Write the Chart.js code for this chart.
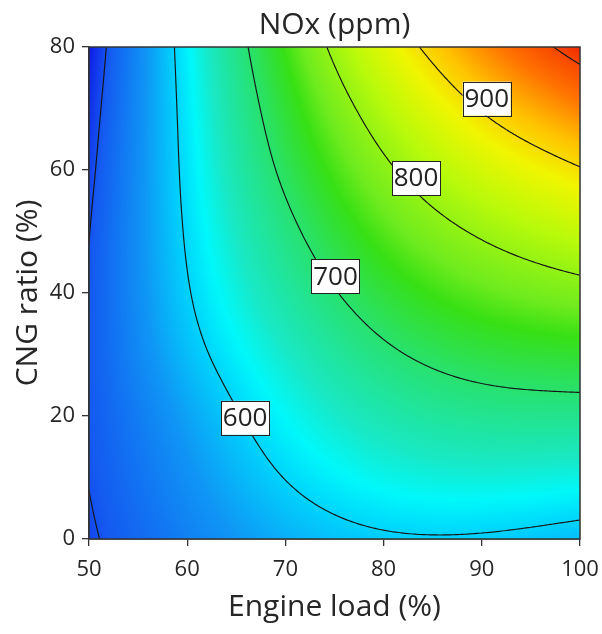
<!DOCTYPE html>
<html>
<head>
<meta charset="utf-8">
<title>NOx (ppm)</title>
<script src="https://cdn.jsdelivr.net/npm/chart.js@4.4.1/dist/chart.umd.min.js"></script>
<style>
    html, body { margin: 0; padding: 0; background: #fff; }
    #wrap { width: 602px; height: 634px; }
</style>
</head>
<body>
<div id="wrap"><canvas id="chartNox" width="602" height="634"></canvas></div>
<script>
// Axis values of the grid
const engineLoad = [50, 60, 70, 80, 90, 100];
const cngRatio = [0, 10, 20, 30, 40, 50, 60, 70, 80];

// NOx (ppm), one row per CNG ratio, columns follow engineLoad
const nox0  = [495, 540, 576, 595, 596, 586];
const nox10 = [501, 554, 601, 629, 637, 632];
const nox20 = [504, 568, 623, 660, 678, 681];
const nox30 = [505, 585, 645, 692, 720, 731];
const nox40 = [503, 597, 667, 725, 763, 784];
const nox50 = [499, 604, 688, 758, 806, 840];
const nox60 = [492, 609, 709, 791, 853, 897];
const nox70 = [484, 613, 728, 826, 903, 957];
const nox80 = [474, 618, 748, 865, 951, 1017];
const noxRows = [nox0, nox10, nox20, nox30, nox40, nox50, nox60, nox70, nox80];

// Contour levels and the labelled ones: [level, engine load, CNG ratio]
const contourLevels = [500, 600, 700, 800, 900, 1000];
const contourLabels = [[600, 65.9, 19.7], [700, 75.1, 42.7], [800, 83.3, 58.7], [900, 90.5, 71.6]];

// Colour scale (ppm -> rgb)
const colorValues = [474, 505, 560, 600, 622, 648, 700, 745, 770, 830, 880, 920, 965, 1000, 1017];
const colorRgb = [
    [15, 25, 230], [20, 90, 240], [15, 150, 245], [0, 212, 252], [0, 248, 250], [25, 232, 195],
    [40, 225, 110], [55, 224, 20], [110, 235, 30], [185, 250, 10], [240, 245, 0],
    [255, 195, 0], [255, 115, 0], [248, 70, 0], [240, 40, 5]
];

// Natural cubic spline through (xs, ys)
function naturalSpline(xs, ys) {
    const n = xs.length;
    const h = [], alpha = [], l = [1], mu = [0], z = [0];
    const b = [], c = new Array(n).fill(0), d = [];
    for (let i = 0; i < n - 1; i++) h[i] = xs[i + 1] - xs[i];
    for (let i = 1; i < n - 1; i++) {
        alpha[i] = 3 / h[i] * (ys[i + 1] - ys[i]) - 3 / h[i - 1] * (ys[i] - ys[i - 1]);
        l[i] = 2 * (xs[i + 1] - xs[i - 1]) - h[i - 1] * mu[i - 1];
        mu[i] = h[i] / l[i];
        z[i] = (alpha[i] - h[i - 1] * z[i - 1]) / l[i];
    }
    for (let j = n - 2; j >= 0; j--) {
        c[j] = (j === 0 ? 0 : z[j]) - (j === 0 ? 0 : mu[j]) * c[j + 1];
        b[j] = (ys[j + 1] - ys[j]) / h[j] - h[j] * (c[j + 1] + 2 * c[j]) / 3;
        d[j] = (c[j + 1] - c[j]) / (3 * h[j]);
    }
    return x => {
        let i = 0;
        while (i < n - 2 && x > xs[i + 1]) i++;
        const dx = x - xs[i];
        return ys[i] + b[i] * dx + c[i] * dx * dx + d[i] * dx * dx * dx;
    };
}

// Fine grid built from the table (first along CNG ratio, then along engine load)
const NX = 201, NY = 161;
const fineL = [], fineC = [];
for (let i = 0; i < NX; i++) fineL.push(50 + i * 50 / (NX - 1));
for (let j = 0; j < NY; j++) fineC.push(j * 80 / (NY - 1));

const colVals = engineLoad.map((_, k) => {
    const f = naturalSpline(cngRatio, noxRows.map(r => r[k]));
    return fineC.map(f);
});
const fine = fineC.map((_, j) => {
    const f = naturalSpline(engineLoad, colVals.map(col => col[j]));
    return fineL.map(f);
});

function sample(L, C) {
    const fx = Math.min(NX - 1.0001, Math.max(0, (L - 50) / 50 * (NX - 1)));
    const fy = Math.min(NY - 1.0001, Math.max(0, C / 80 * (NY - 1)));
    const i = Math.floor(fx), j = Math.floor(fy);
    const tx = fx - i, ty = fy - j;
    const a = fine[j][i] * (1 - tx) + fine[j][i + 1] * tx;
    const b = fine[j + 1][i] * (1 - tx) + fine[j + 1][i + 1] * tx;
    return a * (1 - ty) + b * ty;
}

function colorFor(v) {
    if (v <= colorValues[0]) return colorRgb[0];
    for (let k = 1; k < colorValues.length; k++) {
        if (v <= colorValues[k]) {
            const t = (v - colorValues[k - 1]) / (colorValues[k] - colorValues[k - 1]);
            const c0 = colorRgb[k - 1], c1 = colorRgb[k];
            return [c0[0] + (c1[0] - c0[0]) * t, c0[1] + (c1[1] - c0[1]) * t, c0[2] + (c1[2] - c0[2]) * t];
        }
    }
    return colorRgb[colorRgb.length - 1];
}

// Marching squares on the fine grid, segments in data units
function contourSegments(level) {
    const segs = [];
    for (let j = 0; j < NY - 1; j++) {
        for (let i = 0; i < NX - 1; i++) {
            const v = [fine[j][i], fine[j][i + 1], fine[j + 1][i + 1], fine[j + 1][i]];
            const p = [[fineL[i], fineC[j]], [fineL[i + 1], fineC[j]], [fineL[i + 1], fineC[j + 1]], [fineL[i], fineC[j + 1]]];
            const pts = [];
            for (let e = 0; e < 4; e++) {
                const a = v[e], b = v[(e + 1) % 4];
                if ((a < level) !== (b < level)) {
                    const t = (level - a) / (b - a);
                    const q = p[(e + 1) % 4];
                    pts.push([p[e][0] + t * (q[0] - p[e][0]), p[e][1] + t * (q[1] - p[e][1])]);
                }
            }
            if (pts.length === 2) segs.push(pts);
            else if (pts.length === 4) { segs.push([pts[0], pts[1]]); segs.push([pts[2], pts[3]]); }
        }
    }
    return segs;
}

const heatmapPlugin = {
    id: 'heatmap',
    beforeDatasetsDraw(chart) {
        const { ctx, chartArea: a, scales: { x, y } } = chart;
        const w = Math.round(a.right - a.left), h = Math.round(a.bottom - a.top);
        const off = document.createElement('canvas');
        off.width = w; off.height = h;
        const octx = off.getContext('2d');
        const img = octx.createImageData(w, h);
        for (let py = 0; py < h; py++) {
            const C = y.getValueForPixel(a.top + py + 0.5);
            for (let px = 0; px < w; px++) {
                const L = x.getValueForPixel(a.left + px + 0.5);
                const rgb = colorFor(sample(L, C));
                const k = (py * w + px) * 4;
                img.data[k] = rgb[0]; img.data[k + 1] = rgb[1]; img.data[k + 2] = rgb[2]; img.data[k + 3] = 255;
            }
        }
        octx.putImageData(img, 0, 0);
        ctx.drawImage(off, a.left, a.top);
    },
    afterDatasetsDraw(chart) {
        const { ctx, chartArea: a, scales: { x, y } } = chart;
        ctx.save();
        ctx.beginPath();
        ctx.rect(a.left, a.top, a.right - a.left, a.bottom - a.top);
        ctx.clip();
        ctx.strokeStyle = '#151515';
        ctx.lineWidth = 1.15;
        ctx.lineCap = 'round';
        contourLevels.forEach(level => {
            ctx.beginPath();
            contourSegments(level).forEach(s => {
                ctx.moveTo(x.getPixelForValue(s[0][0]), y.getPixelForValue(s[0][1]));
                ctx.lineTo(x.getPixelForValue(s[1][0]), y.getPixelForValue(s[1][1]));
            });
            ctx.stroke();
        });
        ctx.restore();

        // plot frame
        ctx.save();
        ctx.strokeStyle = '#333';
        ctx.lineWidth = 1.5;
        ctx.strokeRect(a.left, a.top, a.right - a.left, a.bottom - a.top);

        // contour labels
        ctx.font = '26px "Open Sans", sans-serif';
        ctx.textAlign = 'center';
        ctx.textBaseline = 'middle';
        contourLabels.forEach(([level, L, C]) => {
            const cx = x.getPixelForValue(L), cy = y.getPixelForValue(C);
            const bw = 48, bh = 34;
            ctx.fillStyle = '#fff';
            ctx.fillRect(cx - bw / 2, cy - bh / 2, bw, bh);
            ctx.strokeStyle = '#222';
            ctx.lineWidth = 1;
            ctx.strokeRect(Math.round(cx - bw / 2) + 0.5, Math.round(cy - bh / 2) + 0.5, bw, bh);
            ctx.fillStyle = '#222';
            ctx.fillText(String(level), cx, cy + 1);
        });
        ctx.restore();
    }
};

Chart.defaults.font.family = '"Open Sans", sans-serif';
Chart.defaults.color = '#262626';

new Chart(document.getElementById('chartNox'), {
    type: 'scatter',
    data: { datasets: [] },
    options: {
        responsive: false,
        animation: false,
        layout: { padding: { left: 0, right: 22, top: 0, bottom: 0 } },
        plugins: {
            legend: { display: false },
            tooltip: { enabled: false },
            title: {
                display: true,
                text: 'NOx (ppm)',
                fullSize: false,
                color: '#262626',
                font: { size: 30, weight: 'normal' },
                padding: { top: 7, bottom: 4 }
            }
        },
        scales: {
            x: {
                type: 'linear',
                min: 50,
                max: 100,
                afterFit: scale => {
                    scale.height = 95;
                    scale.paddingLeft = 0;
                    scale.paddingRight = 0;
                },
                ticks: { stepSize: 10, font: { size: 22 }, color: '#262626', padding: 11 },
                grid: { drawOnChartArea: false, drawTicks: true, tickLength: 7, color: '#333', lineWidth: 1.3 },
                border: { display: true, color: '#333', width: 1.5 },
                title: { display: true, text: 'Engine load (%)', font: { size: 30 }, color: '#262626', padding: { top: 0, bottom: 9 } }
            },
            y: {
                type: 'linear',
                min: 0,
                max: 80,
                afterFit: scale => {
                    scale.width = 89;
                    scale.paddingTop = 0;
                    scale.paddingBottom = 0;
                },
                ticks: { stepSize: 20, font: { size: 22 }, color: '#262626', padding: 7 },
                grid: { drawOnChartArea: false, drawTicks: true, tickLength: 7, color: '#333', lineWidth: 1.3 },
                border: { display: true, color: '#333', width: 1.5 },
                title: { display: true, text: 'CNG ratio (%)', font: { size: 30 }, color: '#262626', padding: { top: 10, bottom: 0 } }
            }
        }
    },
    plugins: [heatmapPlugin]
});
</script>
</body>
</html>
